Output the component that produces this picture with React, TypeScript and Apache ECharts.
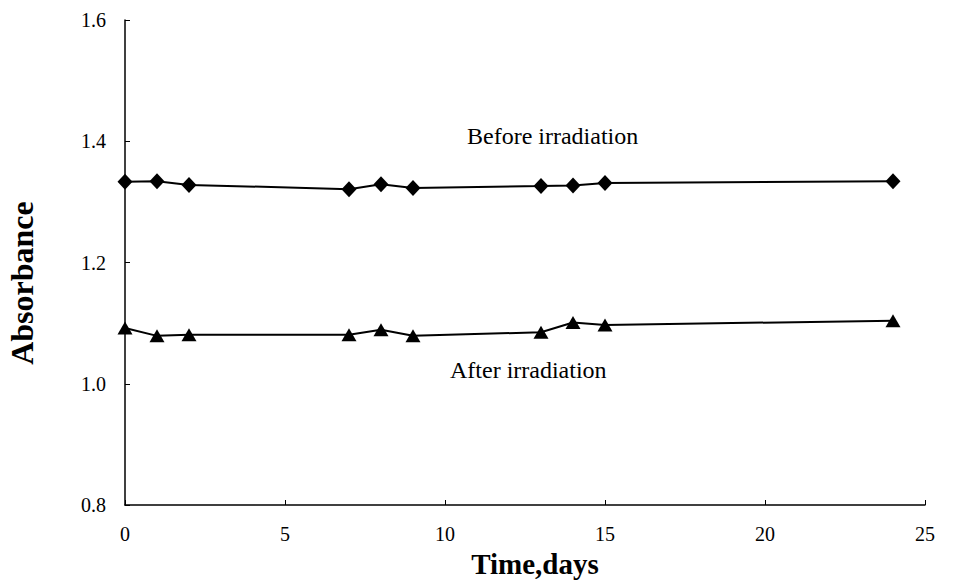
import React, { useEffect, useRef } from "react";
import * as echarts from "echarts";

const days = [0, 1, 2, 7, 8, 9, 13, 14, 15, 24];
const beforeValues = [1.333, 1.334, 1.328, 1.321, 1.329, 1.323, 1.326, 1.327, 1.331, 1.334];
const afterValues = [1.092, 1.079, 1.081, 1.081, 1.089, 1.079, 1.085, 1.101, 1.097, 1.104];
const xTicks = [0, 5, 10, 15, 20, 25];
const yTicks = [0.8, 1.0, 1.2, 1.4, 1.6];
const seriesNames = ["Before irradiation", "After irradiation"];
const xTitle = "Time,days";
const yTitle = "Absorbance";

const FONT = "Liberation Serif";

export default function App() {
  const ref = useRef<HTMLDivElement>(null);
  useEffect(() => {
    if (!ref.current) return;
    const chart = echarts.init(ref.current, undefined, { renderer: "svg" });
    const axisLine = { show: true, lineStyle: { color: "#000", width: 1.5 } };
    chart.setOption({
      animation: false,
      backgroundColor: "#fff",
      grid: { left: 125, right: 28, top: 20, bottom: 77, outerBoundsMode: "none", containLabel: false },
      xAxis: {
        type: "value",
        min: xTicks[0],
        max: xTicks[xTicks.length - 1],
        interval: 5,
        axisLine,
        axisTick: { show: true, inside: true, length: 5, lineStyle: { color: "#000" } },
        splitLine: { show: false },
        axisLabel: { color: "#000", fontFamily: FONT, fontSize: 20, margin: 19 },
      },
      yAxis: {
        type: "value",
        min: yTicks[0],
        max: yTicks[yTicks.length - 1],
        interval: 0.2,
        axisLine,
        axisTick: { show: true, inside: true, length: 5, lineStyle: { color: "#000" } },
        splitLine: { show: false },
        axisLabel: {
          color: "#000",
          fontFamily: FONT,
          fontSize: 20,
          margin: 19,
          formatter: (v: number) => v.toFixed(1),
        },
      },
      series: [
        {
          name: seriesNames[0],
          type: "line",
          data: days.map((d, i) => [d, beforeValues[i]]),
          symbol: "diamond",
          symbolSize: [15, 16],
          lineStyle: { color: "#000", width: 2 },
          itemStyle: { color: "#000" },
        },
        {
          name: seriesNames[1],
          type: "line",
          data: days.map((d, i) => [d, afterValues[i]]),
          symbol: "triangle",
          symbolSize: [15, 13],
          lineStyle: { color: "#000", width: 2 },
          itemStyle: { color: "#000" },
        },
      ],
      graphic: [
        {
          type: "text",
          left: 467,
          top: 124,
          style: { text: seriesNames[0], fill: "#000", font: `24px "${FONT}"` },
        },
        {
          type: "text",
          left: 450,
          top: 358,
          style: { text: seriesNames[1], fill: "#000", font: `24px "${FONT}"` },
        },
        {
          type: "text",
          x: 535,
          y: 564,
          style: {
            text: xTitle,
            fill: "#000",
            font: `bold 29px "${FONT}"`,
            align: "center",
            verticalAlign: "middle",
          },
        },
        {
          type: "text",
          x: 22,
          y: 283,
          rotation: Math.PI / 2,
          style: {
            text: yTitle,
            fill: "#000",
            font: `bold 32px "${FONT}"`,
            align: "center",
            verticalAlign: "middle",
          },
        },
      ],
    });
    return () => chart.dispose();
  }, []);
  return <div ref={ref} style={{ width: 953, height: 582, position: "absolute", left: 0, top: 0 }} />;
}
